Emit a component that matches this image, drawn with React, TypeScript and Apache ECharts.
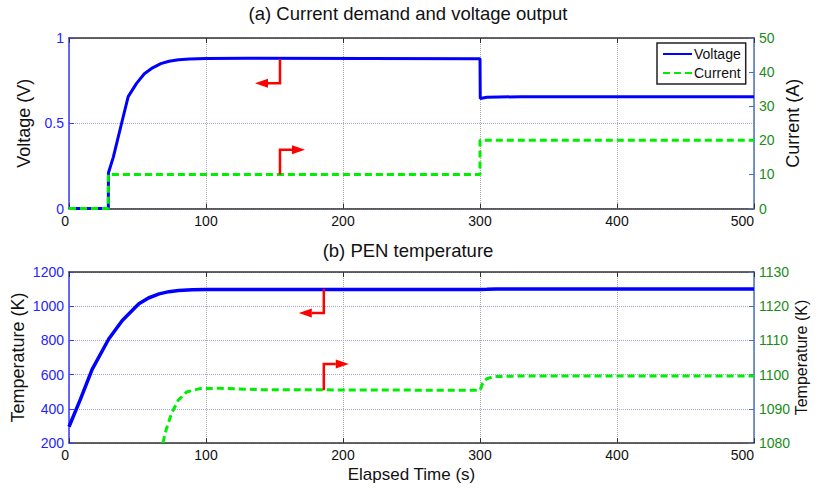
import React, { useEffect, useRef } from "react";
import * as echarts from "echarts";

// ---- Data ----
const xTicks = [0, 100, 200, 300, 400, 500];

// (a) Voltage output (V) vs time (s)
const voltTime = [0, 28.7, 28.8, 32.3, 38.4, 43.2, 49.3, 55, 61, 67, 73, 80, 88, 100, 130, 300, 300.2, 305, 330, 500];
const voltValue = [0, 0, 0.21, 0.3, 0.5, 0.656, 0.734, 0.79, 0.825, 0.85, 0.864, 0.872, 0.877, 0.88, 0.881, 0.879, 0.645, 0.652, 0.656, 0.656];

// (a) Current demand (A)
const curTime = [0, 28.7, 28.7, 300, 300, 500];
const curValue = [0, 0, 10, 10, 20, 20];

// (b) PEN temperature, left axis (K)
const tempTime = [0, 8.3, 16.9, 29, 38.9, 51, 58, 65.8, 73, 80, 90, 100, 130, 300, 305, 312, 500];
const tempValue = [295, 455, 631, 808, 916, 1014, 1048, 1072, 1085, 1092, 1096, 1097, 1098, 1098, 1099, 1101, 1101];

// (b) PEN temperature, right axis zoom (K)
const temp2Time = [68.5, 71, 74.8, 79.7, 85.8, 95.5, 110, 140, 300, 302, 305, 310, 330, 500];
const temp2Value = [1080, 1084, 1088.6, 1092.5, 1094.9, 1095.9, 1096, 1095.6, 1095.4, 1097.5, 1098.8, 1099.4, 1099.6, 1099.6];

// Annotation arrows: [time, startValue, elbowValue, direction(-1 left, +1 right)]
const arrowsVoltage = [[154, 0.876, 0.735, -1]];
const arrowsCurrent = [[154, 10, 17.2, 1]];
const arrowsTempLeft = [[186, 1100, 960, -1]];
const arrowsTempRight = [[186, 1095.4, 1103.1, 1]];

const FONT = "'Liberation Sans', Arial, Helvetica, sans-serif";
const BLUE = "#0000ff";
const GREEN_LINE = "#00ee00";
const GREEN_TEXT = "#1a8c1a";
const LEFT_LABEL = "#2424ff";
const RIGHT_AXIS = "#4a72c4";
const DARK = "#333333";

const zip = (xs: number[], ys: number[]) => xs.map((x, i) => [x, ys[i]]);
const plain = (v: number) => String(v);

function arrowSeries(data: number[][], xAxisIndex: number, yAxisIndex: number) {
  return {
    type: "custom",
    coordinateSystem: "cartesian2d",
    xAxisIndex,
    yAxisIndex,
    silent: true,
    clip: false,
    z: 10,
    encode: { x: 0, y: [1, 2] },
    data,
    renderItem: (_params: any, api: any) => {
      const x = api.value(0);
      const y0 = api.value(1);
      const y1 = api.value(2);
      const dir = api.value(3);
      const a = api.coord([x, y0]);
      const b = api.coord([x, y1]);
      const ex = b[0] + dir * 12;
      return {
        type: "group",
        children: [
          {
            type: "polyline",
            shape: { points: [a, b, [ex, b[1]]] },
            style: { stroke: "#ff0000", lineWidth: 2.5, fill: "none" },
          },
          {
            type: "polygon",
            shape: { points: [[ex, b[1] - 4.5], [ex + dir * 13, b[1]], [ex, b[1] + 4.5]] },
            style: { fill: "#ff0000" },
          },
        ],
      };
    },
  };
}

function xAxisPair(gridIndex: number, withName: boolean) {
  const common = {
    gridIndex,
    type: "value",
    min: xTicks[0],
    max: xTicks[xTicks.length - 1],
    interval: xTicks[1] - xTicks[0],
  };
  return [
    {
      ...common,
      position: "bottom",
      name: withName ? "Elapsed Time (s)" : "",
      nameLocation: "middle",
      nameGap: 23,
      nameTextStyle: { fontSize: 17, color: "#111", fontFamily: FONT },
      axisLine: { show: true, onZero: false, lineStyle: { color: DARK, width: 1.5 } },
      axisTick: { show: true, inside: true, length: 5, lineStyle: { color: DARK } },
      axisLabel: {
        fontSize: 14,
        color: "#111",
        margin: 5,
        fontFamily: FONT,
        alignMinLabel: "right",
        alignMaxLabel: "right",
        formatter: plain,
      },
      splitLine: { show: true, lineStyle: { color: "#aaaaaa", type: "dotted", width: 1 } },
    },
    {
      ...common,
      position: "top",
      axisLine: { show: true, onZero: false, lineStyle: { color: DARK, width: 1.5 } },
      axisTick: { show: true, inside: true, length: 5, lineStyle: { color: DARK } },
      axisLabel: { show: false },
      splitLine: { show: false },
    },
  ];
}

function yAxis(
  gridIndex: number,
  position: "left" | "right",
  min: number,
  max: number,
  interval: number,
  name: string,
  nameGap: number,
  split: boolean,
  nameSize = 18
) {
  const left = position === "left";
  return {
    gridIndex,
    type: "value",
    position,
    min,
    max,
    interval,
    name,
    nameLocation: "middle",
    nameGap,
    nameRotate: 90,
    nameMoveOverlap: false,
    nameTextStyle: { fontSize: nameSize, color: "#111", fontFamily: FONT },
    axisLine: { show: true, onZero: false, lineStyle: { color: left ? "#3a3aff" : RIGHT_AXIS, width: 1.5 } },
    axisTick: { show: true, inside: true, length: 5, lineStyle: { color: left ? "#3a3aff" : RIGHT_AXIS } },
    axisLabel: { fontSize: 14, color: left ? LEFT_LABEL : GREEN_TEXT, margin: 5, fontFamily: FONT, formatter: plain },
    splitLine: { show: split, lineStyle: { color: "#a0a0f0", type: "dotted", width: 1 } },
  };
}

export default function App() {
  const ref = useRef<HTMLDivElement>(null);

  useEffect(() => {
    if (!ref.current) return;
    const chart = echarts.init(ref.current, null, { renderer: "svg" });
    const option: any = {
      animation: false,
      backgroundColor: "#ffffff",
      textStyle: { fontFamily: FONT },
      title: [
        {
          text: "(a) Current demand and voltage output",
          left: "center",
          top: 4,
          padding: 0,
          textStyle: { fontSize: 18.5, fontWeight: "normal", color: "#111", fontFamily: FONT },
        },
        {
          text: "(b) PEN temperature",
          left: "center",
          top: 241,
          padding: 0,
          textStyle: { fontSize: 18.5, fontWeight: "normal", color: "#111", fontFamily: FONT },
        },
      ],
      legend: {
        data: ["Voltage", "Current"],
        orient: "vertical",
        left: 657,
        top: 43,
        itemWidth: 29,
        itemHeight: 14,
        itemGap: 5,
        padding: [4, 5, 4, 5],
        borderColor: "#222",
        borderWidth: 1.5,
        backgroundColor: "#ffffff",
        itemStyle: { opacity: 0 },
        textStyle: { fontSize: 14, color: "#111", fontFamily: FONT, padding: [0, 0, 0, -3] },
      },
      grid: [
        { left: 69, top: 38, width: 685, height: 170.5, containLabel: false, outerBoundsMode: "none" },
        { left: 69, top: 272, width: 685, height: 171, containLabel: false, outerBoundsMode: "none" },
      ],
      xAxis: [...xAxisPair(0, false), ...xAxisPair(1, true)],
      yAxis: [
        yAxis(0, "left", 0, 1, 0.5, "Voltage (V)", 36, true),
        yAxis(0, "right", 0, 50, 10, "Current (A)", 30, false),
        yAxis(1, "left", 200, 1200, 200, "Temperature (K)", 42, true),
        yAxis(1, "right", 1080, 1130, 10, "Temperature (K)", 39, false, 16),
      ],
      series: [
        {
          name: "Voltage",
          type: "line",
          xAxisIndex: 0,
          yAxisIndex: 0,
          data: zip(voltTime, voltValue),
          symbol: "none",
          showSymbol: false,
          lineStyle: { color: BLUE, width: 3 },
          itemStyle: { color: BLUE },
          z: 3,
        },
        {
          name: "Current",
          type: "line",
          xAxisIndex: 0,
          yAxisIndex: 1,
          data: zip(curTime, curValue),
          symbol: "none",
          showSymbol: false,
          lineStyle: { color: GREEN_LINE, width: 3, type: [7, 4] },
          itemStyle: { color: GREEN_LINE },
          z: 4,
        },
        {
          name: "PEN temperature",
          type: "line",
          xAxisIndex: 2,
          yAxisIndex: 2,
          data: zip(tempTime, tempValue),
          symbol: "none",
          showSymbol: false,
          lineStyle: { color: BLUE, width: 3.5 },
          itemStyle: { color: BLUE },
          z: 3,
        },
        {
          name: "PEN temperature (zoom)",
          type: "line",
          xAxisIndex: 2,
          yAxisIndex: 3,
          data: zip(temp2Time, temp2Value),
          symbol: "none",
          showSymbol: false,
          lineStyle: { color: GREEN_LINE, width: 3, type: [7, 4] },
          itemStyle: { color: GREEN_LINE },
          z: 4,
        },
        arrowSeries(arrowsVoltage, 0, 0),
        arrowSeries(arrowsCurrent, 0, 1),
        arrowSeries(arrowsTempLeft, 2, 2),
        arrowSeries(arrowsTempRight, 2, 3),
      ],
    };
    chart.setOption(option);
    return () => chart.dispose();
  }, []);

  return (
    <div
      ref={ref}
      style={{ position: "absolute", left: 0, top: 0, width: 816, height: 492, background: "#fff" }}
    />
  );
}
